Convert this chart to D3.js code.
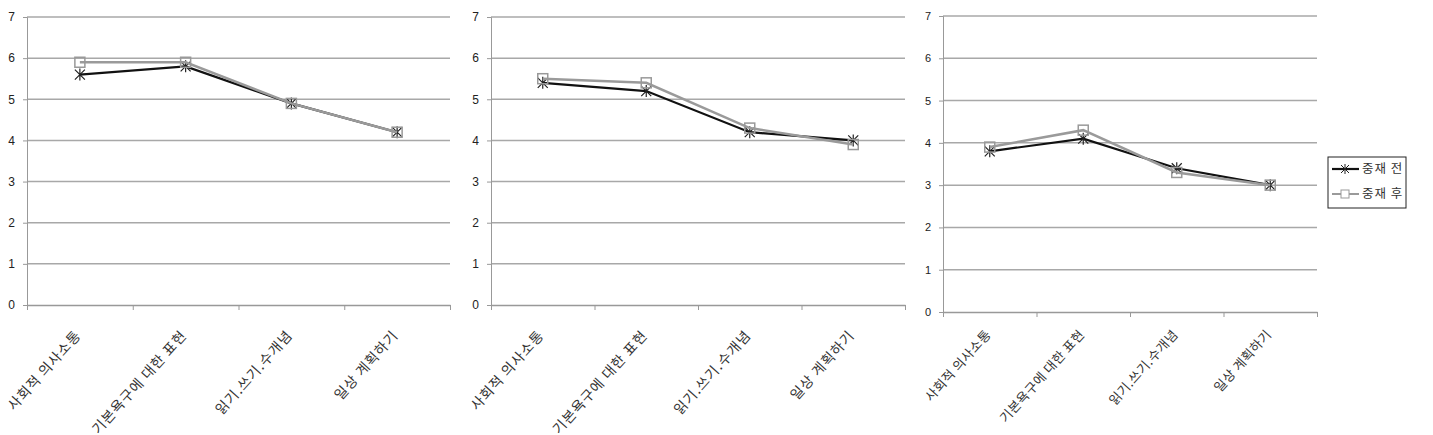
<!DOCTYPE html>
<html>
<head>
<meta charset="utf-8">
<script src="https://cdn.jsdelivr.net/npm/d3@7"></script>
<style>
  body { margin: 0; background: #fff; }
  svg { display: block; font-family: "Noto Sans CJK KR", "Noto Sans", sans-serif; }
</style>
</head>
<body>
<svg id="chart" width="1433" height="435"></svg>
<script>
const categories = ["사회적 의사소통", "기본욕구에 대한 표현", "읽기.쓰기.수개념", "일상 계획하기"];
const seriesNames = ["중재 전", "중재 후"];
const yTicks = [0, 1, 2, 3, 4, 5, 6, 7];

// panel 1
const pre1 = [5.6, 5.8, 4.9, 4.2];
const post1 = [5.9, 5.9, 4.9, 4.2];
// panel 2
const pre2 = [5.4, 5.2, 4.2, 4.0];
const post2 = [5.5, 5.4, 4.3, 3.9];
// panel 3
const pre3 = [3.8, 4.1, 3.4, 3.0];
const post3 = [3.9, 4.3, 3.3, 3.0];

const svg = d3.select('#chart');

const panels = [
    {left: 27, right: 450, top: 17, bottom: 305, pre: pre1, post: post1, font: 14, spacing: 1, labelDy: 31, tickFont: 12},
    {left: 491, right: 905, top: 17, bottom: 305, pre: pre2, post: post2, font: 14, spacing: 1, labelDy: 31, tickFont: 12},
    {left: 943, right: 1317, top: 16, bottom: 312, pre: pre3, post: post3, font: 13, spacing: 0.5, labelDy: 23, tickFont: 11}
];

const starPath = "M-5,-5L5,5M-5,5L5,-5M0,-6L0,6";

panels.forEach(p => drawPanel(p));
drawLegend();

function drawPanel(p) {
    const g = svg.append('g');

    const x = d3.scaleBand()
        .domain(categories)
        .range([p.left, p.right])
        .padding(0);

    const xEdge = d3.scaleLinear()
        .domain([0, categories.length])
        .range([p.left, p.right]);

    const y = d3.scaleLinear()
        .domain([0, 7])
        .range([p.bottom, p.top]);

    // gridlines
    g.append('g')
        .selectAll('line')
        .data(yTicks.slice(1))
        .enter().append('line')
        .attr('x1', p.left)
        .attr('x2', p.right)
        .attr('y1', d => y(d))
        .attr('y2', d => y(d))
        .attr('stroke', '#a8a8a8')
        .attr('stroke-width', 1.5);

    // y axis
    const yAxis = g.append('g')
        .attr('transform', `translate(${p.left},0)`)
        .call(d3.axisLeft(y).tickValues(yTicks).tickSize(4).tickPadding(8).tickFormat(d3.format('d')));
    yAxis.select('.domain').attr('stroke', '#999');
    yAxis.selectAll('.tick line').attr('stroke', '#999');
    yAxis.selectAll('text')
        .attr('fill', '#222')
        .style('font-size', p.tickFont + 'px');

    // x axis with ticks at category boundaries
    const xAxis = g.append('g')
        .attr('transform', `translate(0,${p.bottom})`)
        .call(d3.axisBottom(xEdge).tickValues(d3.range(categories.length + 1)).tickSizeInner(5).tickSizeOuter(0).tickFormat(''));
    xAxis.select('.domain').attr('stroke', '#999').attr('stroke-width', 1.5);
    xAxis.selectAll('.tick line').attr('stroke', '#999');

    // category labels
    g.append('g')
        .selectAll('text')
        .data(categories)
        .enter().append('text')
        .attr('transform', d => `translate(${x(d) + x.bandwidth() / 2 + 2},${p.bottom + p.labelDy}) rotate(-48)`)
        .attr('text-anchor', 'end')
        .attr('fill', '#333')
        .style('font-size', p.font + 'px')
        .style('letter-spacing', p.spacing + 'px')
        .text(d => d);

    const line = d3.line()
        .x((d, i) => x(categories[i]) + x.bandwidth() / 2)
        .y(d => y(d));

    // 중재 전
    g.append('path')
        .datum(p.pre)
        .attr('fill', 'none')
        .attr('stroke', '#111')
        .attr('stroke-width', 2.2)
        .attr('d', line);

    g.append('g')
        .selectAll('path')
        .data(p.pre)
        .enter().append('path')
        .attr('transform', (d, i) => `translate(${x(categories[i]) + x.bandwidth() / 2},${y(d)})`)
        .attr('d', starPath)
        .attr('stroke', '#222')
        .attr('stroke-width', 1.2)
        .attr('fill', 'none');

    // 중재 후
    g.append('path')
        .datum(p.post)
        .attr('fill', 'none')
        .attr('stroke', '#9a9a9a')
        .attr('stroke-width', 2.5)
        .attr('d', line);

    g.append('g')
        .selectAll('rect')
        .data(p.post)
        .enter().append('rect')
        .attr('x', (d, i) => x(categories[i]) + x.bandwidth() / 2 - 5)
        .attr('y', d => y(d) - 5)
        .attr('width', 10)
        .attr('height', 10)
        .attr('stroke', '#999')
        .attr('stroke-width', 1.5)
        .attr('fill', 'none');
}

function drawLegend() {
    const lg = svg.append('g').attr('transform', 'translate(1328,157)');

    lg.append('rect')
        .attr('width', 78)
        .attr('height', 51)
        .attr('fill', '#fff')
        .attr('stroke', '#222')
        .attr('stroke-width', 1);

    const rows = lg.selectAll('g.row')
        .data(seriesNames)
        .enter().append('g')
        .attr('class', 'row')
        .attr('transform', (d, i) => `translate(0,${12 + i * 25})`);

    rows.append('line')
        .attr('x1', 4)
        .attr('x2', 31)
        .attr('stroke', (d, i) => i === 0 ? '#111' : '#9a9a9a')
        .attr('stroke-width', (d, i) => i === 0 ? 2.2 : 2);

    rows.filter((d, i) => i === 0).append('path')
        .attr('transform', 'translate(17,0)')
        .attr('d', "M-4,-4L4,4M-4,4L4,-4M0,-5L0,5")
        .attr('stroke', '#222')
        .attr('fill', 'none');

    rows.filter((d, i) => i === 1).append('rect')
        .attr('x', 13).attr('y', -4)
        .attr('width', 8).attr('height', 8)
        .attr('stroke', '#999')
        .attr('fill', '#fff');

    rows.append('text')
        .attr('x', 34)
        .attr('dy', '0.35em')
        .attr('fill', '#333')
        .style('font-size', '12.5px')
        .style('letter-spacing', '1px')
        .text(d => d);
}
</script>
</body>
</html>
